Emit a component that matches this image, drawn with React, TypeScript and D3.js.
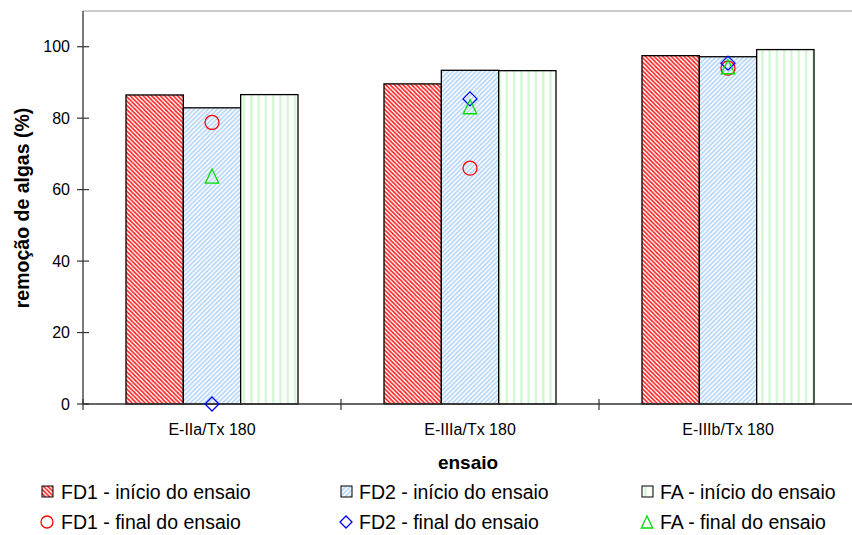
import React from "react";
import * as d3 from "d3";

const categories = ["E-IIa/Tx 180", "E-IIIa/Tx 180", "E-IIIb/Tx 180"];
const barSeries = ["FD1 - início do ensaio", "FD2 - início do ensaio", "FA - início do ensaio"];
const pointSeries = ["FD1 - final do ensaio", "FD2 - final do ensaio", "FA - final do ensaio"];

// removal at the start of each run (%)
const fd1Start = [86.5, 89.6, 97.5];
const fd2Start = [82.9, 93.4, 97.2];
const faStart = [86.6, 93.3, 99.2];

// removal at the end of each run (%)
const fd1End = [78.8, 66.0, 94.0];
const fd2End = [0, 85.4, 95.4];
const faEnd = [63.8, 83.2, 94.4];

const yTicks = [0, 20, 40, 60, 80, 100];

const W = 852;
const H = 535;
const left = 83;
const top = 11;
const bottom = 404;
const groupRight = 857;

const barFills = ["url(#pFD1)", "url(#pFD2)", "url(#pFA)"];
const markerColors = ["#ff0000", "#0000ff", "#00dd00"];

function Marker({ kind, x, y, s }: { kind: number; x: number; y: number; s: number }) {
  const c = markerColors[kind];
  if (kind === 0) return <circle cx={x} cy={y} r={s} fill="none" stroke={c} strokeWidth={1.3} />;
  if (kind === 1)
    return (
      <path
        d={`M${x},${y - s} L${x + s},${y} L${x},${y + s} L${x - s},${y} Z`}
        fill="none"
        stroke={c}
        strokeWidth={1.3}
      />
    );
  return (
    <path
      d={`M${x},${y - s} L${x + s * 0.95},${y + s} L${x - s * 0.95},${y + s} Z`}
      fill="none"
      stroke={c}
      strokeWidth={1.3}
    />
  );
}

export default function App() {
  const x = d3.scaleBand<string>().domain(categories).range([left, groupRight]).padding(0);
  const bw = x.bandwidth();
  const xs = d3
    .scaleBand<string>()
    .domain(barSeries)
    .range([bw / 6, (bw * 5) / 6])
    .padding(0);
  const y = d3.scaleLinear().domain([0, 110]).range([bottom, top]);

  const starts = [fd1Start, fd2Start, faStart];
  const ends = [fd1End, fd2End, faEnd];
  const font = "'Liberation Sans', Arial, sans-serif";

  const legendCols = [42, 341, 642];
  const legendTextX = [61, 359, 660];

  return (
    <svg
      width={W}
      height={H}
      style={{ position: "absolute", left: 0, top: 0, background: "#fff" }}
      fontFamily={font}
    >
      <defs>
        <pattern id="pFD1" patternUnits="userSpaceOnUse" width={4.3} height={4.3}>
          <rect width={4.3} height={4.3} fill="#fff" />
          <path d="M-1,-1 L5.3,5.3 M-1,3.3 L1,5.3 M3.3,-1 L5.3,1" stroke="#ff1a1a" strokeWidth={1.6} />
        </pattern>
        <pattern id="pFD2" patternUnits="userSpaceOnUse" width={4.6} height={4.6}>
          <rect width={4.6} height={4.6} fill="#fff" />
          <path d="M-1,5.6 L5.6,-1 M-1,1 L1,-1 M3.6,5.6 L5.6,3.6" stroke="#b3d4f7" strokeWidth={1.7} />
        </pattern>
        <pattern id="pFA" patternUnits="userSpaceOnUse" width={7.3} height={10}>
          <rect width={7.3} height={10} fill="#fff" />
          <rect x={2} width={2.2} height={10} fill="#cff7cf" />
        </pattern>
      </defs>

      {/* plot frame top */}
      <line x1={left} x2={W} y1={top} y2={top} stroke="#999" strokeWidth={1.2} />

      {/* bars */}
      {categories.map((cat, ci) =>
        barSeries.map((s, si) => {
          const v = starts[si][ci];
          const bx = (x(cat) as number) + (xs(s) as number);
          return (
            <rect
              key={cat + s}
              x={bx}
              y={y(v)}
              width={xs.bandwidth()}
              height={bottom - y(v)}
              fill={barFills[si]}
              stroke="#000"
              strokeWidth={1.3}
            />
          );
        })
      )}

      {/* y axis */}
      <line x1={left} x2={left} y1={top} y2={bottom} stroke="#333" strokeWidth={1.3} />
      {yTicks.map((t) => (
        <g key={t}>
          <line x1={left - 6} x2={left + 6} y1={y(t)} y2={y(t)} stroke="#333" strokeWidth={1.2} />
          <text x={left - 13} y={y(t)} dy="0.36em" textAnchor="end" fontSize={16} fill="#000">
            {t}
          </text>
        </g>
      ))}

      {/* x axis */}
      <line x1={left} x2={W} y1={bottom} y2={bottom} stroke="#333" strokeWidth={1.5} />
      {categories.map((cat) => (
        <line
          key={"t" + cat}
          x1={x(cat) as number}
          x2={x(cat) as number}
          y1={bottom - 5}
          y2={bottom + 6}
          stroke="#333"
          strokeWidth={1.2}
        />
      ))}
      {categories.map((cat) => (
        <text
          key={"l" + cat}
          x={(x(cat) as number) + bw / 2}
          y={435}
          textAnchor="middle"
          fontSize={16}
          fill="#000"
        >
          {cat}
        </text>
      ))}

      {/* end-of-run markers */}
      {categories.map((cat, ci) =>
        pointSeries.map((s, si) => (
          <Marker
            key={cat + s}
            kind={si}
            x={(x(cat) as number) + bw / 2}
            y={y(ends[si][ci])}
            s={7}
          />
        ))
      )}

      {/* axis titles */}
      <text x={468} y={469} textAnchor="middle" fontSize={19} fontWeight="bold" fill="#000">
        ensaio
      </text>
      <text
        transform={`translate(29,208) rotate(-90)`}
        textAnchor="middle"
        fontSize={19.5}
        fontWeight="bold"
        fill="#000"
      >
        remoção de algas (%)
      </text>

      {/* legend */}
      {barSeries.map((s, i) => (
        <g key={s}>
          <rect x={legendCols[i]} y={486} width={11} height={11} fill={barFills[i]} stroke="#000" strokeWidth={1} />
          <text x={legendTextX[i]} y={499} fontSize={19.5} fill="#000">
            {s}
          </text>
        </g>
      ))}
      {pointSeries.map((s, i) => (
        <g key={s}>
          <Marker kind={i} x={legendCols[i] + 5} y={522} s={6} />
          <text x={legendTextX[i]} y={529} fontSize={19.5} fill="#000">
            {s}
          </text>
        </g>
      ))}
    </svg>
  );
}
